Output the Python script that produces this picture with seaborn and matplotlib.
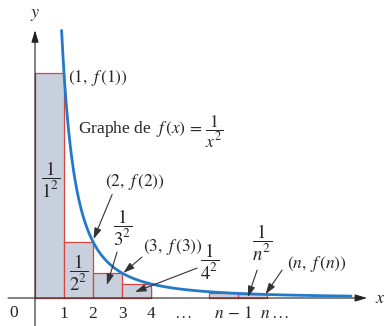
import numpy as np
import pandas as pd
import matplotlib
matplotlib.use("Agg")
import matplotlib.pyplot as plt
import seaborn as sns

# Rectangles under the curve: left edge and height f(k) = 1/k^2
rect_left = [0, 1, 2, 3, 6, 7]
rect_height = [1.0, 0.25, 0.1111, 0.0625, 0.0204, 0.0156]

# x-axis labels
tick_major = [1, 2, 3, 4]
tick_major_labels = ["1", "2", "3", "4"]
tick_extra = [5.1, 6.83, 7.93, 8.45]
tick_extra_labels = [r"$\ldots$", r"$n\,-\,1$", r"$n$", r"$\ldots$"]

# Graph of f(x) = 1/x^2
x_start, x_end = 0.917, 10.9

sns.set_theme(style="white")
plt.rcParams["font.family"] = ["Liberation Serif", "DejaVu Serif"]
plt.rcParams["mathtext.fontset"] = "stix"

fig = plt.figure(figsize=(3.87, 3.26), dpi=100)
fig.patch.set_facecolor("white")
ax = fig.add_axes([0, 0, 1, 1])
ax.set_facecolor("white")
ax.set_xlim(-1.207, 12.138)
ax.set_ylim(-0.1244, 1.3244)

# rectangles
ax.bar(rect_left, rect_height, width=1.0, align="edge",
       color="#c8d0dd", edgecolor="#d8453e", linewidth=0.9, zorder=1)

# curve
xs = np.linspace(x_start, x_end, 400)
curve = pd.DataFrame({"x": xs, "y": 1.0 / xs ** 2})
sns.lineplot(data=curve, x="x", y="y", color="#2479c9", linewidth=2.0,
             ax=ax, zorder=3)
ax.set_xlabel("")
ax.set_ylabel("")

# axes with arrow heads
axis_kw = dict(arrowstyle="-|>,head_length=0.6,head_width=0.18",
               color="#222222", lw=0.8, shrinkA=0, shrinkB=0)
ax.annotate("", xy=(11.45, 0), xytext=(-0.93, 0), arrowprops=axis_kw, zorder=2)
ax.annotate("", xy=(0, 1.19), xytext=(0, -0.13), arrowprops=axis_kw, zorder=2)
ax.text(11.9, 0.0, r"$x$", fontsize=13, ha="center", va="center")
ax.text(0.0, 1.258, r"$y$", fontsize=13, ha="center", va="center")
ax.text(-0.72, -0.068, "0", fontsize=12.5, ha="center", va="center")

# tick marks and labels on the x-axis line
for s in ax.spines.values():
    s.set_visible(False)
ax.spines["bottom"].set_position(("data", 0))
ax.set_xticks(tick_major)
ax.set_xticklabels(tick_major_labels, fontsize=12.5)
ax.set_xticks(tick_extra, minor=True)
ax.set_xticklabels(tick_extra_labels, minor=True, fontsize=12.5)
ax.tick_params(axis="x", which="major", direction="in", length=6.5,
               width=0.9, color="#333333", pad=6, bottom=True)
ax.tick_params(axis="x", which="minor", length=0, pad=6, bottom=True)
ax.set_yticks([])

# labels inside / near the rectangles
fs = 12.5
ffs = 13.5
ax.text(0.52, 0.524, r"$\dfrac{1}{1^2}$", fontsize=ffs, ha="center", va="center", zorder=5)
ax.text(1.5, 0.112, r"$\dfrac{1}{2^2}$", fontsize=ffs, ha="center", va="center", zorder=5)
ax.text(1.14, 0.978, r"$(1,\ f\,(1))$", fontsize=fs, ha="left", va="center", zorder=5)
ax.text(1.48, 0.738, r"Graphe de  $f\,(x)\,=\,\dfrac{1}{x^2}$", fontsize=fs,
        ha="left", va="center", zorder=5)

labels = [
    (3.45, 0.516, r"$(2,\ f\,(2))$", "center"),
    (3.03, 0.31, r"$\dfrac{1}{3^2}$", "center"),
    (3.72, 0.227, r"$(3,\ f\,(3))$", "left"),
    (6.03, 0.16, r"$\dfrac{1}{4^2}$", "center"),
    (7.83, 0.244, r"$\dfrac{1}{n^2}$", "center"),
    (8.69, 0.151, r"$(n,\ f\,(n))$", "left"),
]
for x, y, t, ha in labels:
    ax.text(x, y, t, fontsize=ffs if "frac" in t else fs, ha=ha, va="center", zorder=5)

pointer_kw = dict(arrowstyle="-|>,head_length=0.55,head_width=0.18",
                  color="#333333", lw=0.8, shrinkA=0, shrinkB=0)
pointers = [
    ((2.66, 0.46), (2.02, 0.262)),
    ((2.83, 0.204), (2.48, 0.058)),
    ((3.69, 0.182), (3.05, 0.112)),
    ((5.59, 0.133), (3.45, 0.027)),
    ((7.66, 0.124), (7.34, 0.004)),
    ((8.52, 0.124), (7.95, 0.017)),
]
for start, end in pointers:
    ax.annotate("", xy=end, xytext=start, arrowprops=pointer_kw, zorder=4)

fig.savefig("out.png", dpi=100)
